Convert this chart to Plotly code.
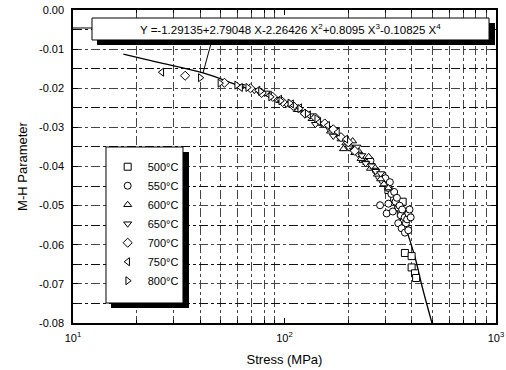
import plotly.graph_objects as go

# ---------------- data ----------------
s500 = [290, 310, 330, 345, 355, 365, 372, 362, 371, 399, 399, 414, 419]
y500 = [-0.0425, -0.0460, -0.0480, -0.0505, -0.0520, -0.0540, -0.0555, -0.0490, -0.0621, -0.0629, -0.0658, -0.0673, -0.0685]

s550 = [255, 270, 280, 290, 300, 310, 315, 320, 330, 335, 340, 345, 350, 355, 360, 365, 370, 375, 380, 385, 390, 395, 345, 358, 371, 385, 283, 304, 325, 310]
y550 = [-0.0385, -0.0410, -0.0425, -0.0435, -0.0430, -0.0455, -0.0440, -0.0470, -0.0465, -0.0490, -0.0480, -0.0505, -0.0500, -0.0525, -0.0510, -0.0540, -0.0530, -0.0545, -0.0535, -0.0520, -0.0510, -0.0530, -0.0545, -0.0558, -0.0569, -0.0563, -0.0499, -0.0520, -0.0515, -0.0495]

s600 = [95, 105, 115, 125, 135, 145, 155, 165, 175, 185, 195, 205, 215, 225, 235, 245, 255, 265, 275, 285, 295, 310, 190, 210, 230, 250]
y600 = [-0.0232, -0.0238, -0.0255, -0.0262, -0.0278, -0.0290, -0.0295, -0.0310, -0.0318, -0.0330, -0.0340, -0.0348, -0.0365, -0.0362, -0.0385, -0.0390, -0.0405, -0.0400, -0.0420, -0.0432, -0.0445, -0.0455, -0.0355, -0.0335, -0.0380, -0.0375]

s650 = [62, 72, 82, 92, 102, 112, 122, 132, 142, 152, 162, 172, 182, 192, 202, 212, 222, 232, 242, 258, 270, 285, 170, 140, 220]
y650 = [-0.0195, -0.0205, -0.0212, -0.0228, -0.0240, -0.0248, -0.0262, -0.0270, -0.0282, -0.0292, -0.0302, -0.0305, -0.0325, -0.0332, -0.0352, -0.0358, -0.0368, -0.0372, -0.0392, -0.0398, -0.0412, -0.0418, -0.0322, -0.0292, -0.0350]

s700 = [33.9, 52, 69, 78, 88, 98, 110, 125, 140, 155, 170, 185, 200, 215]
y700 = [-0.0168, -0.0186, -0.0200, -0.0212, -0.0222, -0.0235, -0.0245, -0.0265, -0.0275, -0.0290, -0.0305, -0.0325, -0.0338, -0.0360]

s750 = [26.3, 62, 75, 85, 95, 108, 118, 130, 145, 160, 178, 195]
y750 = [-0.0159, -0.0198, -0.0205, -0.0218, -0.0228, -0.0240, -0.0250, -0.0268, -0.0285, -0.0295, -0.0312, -0.0330]

s800 = [40, 49.5, 59.4, 67, 77, 86, 96, 106, 118, 128, 142]
y800 = [-0.0173, -0.0187, -0.0192, -0.0198, -0.0208, -0.0222, -0.0232, -0.0238, -0.0252, -0.0265, -0.0278]

fit_s = [17.3, 25, 41.2, 60, 76.6, 100, 120, 147, 175, 199, 225, 253, 275, 298, 325, 350, 378, 414, 447, 498]
fit_y = [-0.0113, -0.0133, -0.0161, -0.0192, -0.0212, -0.0235, -0.0258, -0.0284, -0.0315, -0.0345, -0.0371, -0.0396, -0.0417, -0.0440, -0.0470, -0.0509, -0.0563, -0.0632, -0.0706, -0.0800]

series_names = ["500°C", "550°C", "600°C", "650°C", "700°C", "750°C", "800°C"]
series_s = [s500, s550, s600, s650, s700, s750, s800]
series_y = [y500, y550, y600, y650, y700, y750, y800]
symbols = ["square", "circle", "triangle-up", "triangle-down", "diamond", "triangle-left", "triangle-right"]

x_tickvals = [10, 100, 1000]
x_ticktext = ["10<sup>1</sup>", "10<sup>2</sup>", "10<sup>3</sup>"]
x_minor = [20, 30, 40, 50, 60, 70, 80, 90, 200, 300, 400, 500, 600, 700, 800, 900]
y_tickvals = [0.0, -0.01, -0.02, -0.03, -0.04, -0.05, -0.06, -0.07, -0.08]
y_ticktext = ["0.00", "-0.01", "-0.02", "-0.03", "-0.04", "-0.05", "-0.06", "-0.07", "-0.08"]
y_minor = [-0.005, -0.015, -0.025, -0.035, -0.045, -0.055, -0.065, -0.075]

equation = "Y =-1.29135+2.79048 X-2.26426 X<sup>2</sup>+0.8095 X<sup>3</sup>-0.10825 X<sup>4</sup>"

FONT = "Liberation Sans, Arial, sans-serif"

fig = go.Figure()

fig.add_trace(go.Scatter(x=fit_s, y=fit_y, mode="lines", line=dict(color="black", width=1.3, shape="spline"),
                         showlegend=False, hoverinfo="skip"))

for name, sx, sy, sym in zip(series_names, series_s, series_y, symbols):
    fig.add_trace(go.Scatter(x=sx, y=sy, mode="markers", name=name,
                             marker=dict(symbol=sym, size=7, color="white",
                                         line=dict(color="black", width=1))))

shapes = [
    # equation box shadow + box
    dict(type="rect", xref="paper", yref="paper", x0=0.0567, x1=0.9976, y0=0.8882, y1=0.9585,
         fillcolor="black", line=dict(width=0), layer="above"),
    dict(type="rect", xref="paper", yref="paper", x0=0.0449, x1=0.9835, y0=0.9042, y1=0.9744,
         fillcolor="white", line=dict(color="black", width=1), layer="above"),
    # pointer lines
    dict(type="line", xref="paper", yref="paper", x0=0.3286, y0=0.9042, x1=0.3073, y1=0.7987,
         line=dict(color="black", width=1), layer="above"),
    dict(type="line", xref="paper", yref="paper", x0=0.0, y0=0.9425, x1=0.0449, y1=0.9425,
         line=dict(color="black", width=1), layer="above"),
    # legend shadow + frame
    dict(type="rect", xref="paper", yref="paper", x0=0.0898, x1=0.2742, y0=0.0479, y1=0.5463,
         fillcolor="black", line=dict(width=0), layer="above"),
    dict(type="rect", xref="paper", yref="paper", x0=0.0780, x1=0.2600, y0=0.0639, y1=0.5623,
         fillcolor="white", line=dict(color="black", width=1), layer="above"),
]

fig.update_layout(
    width=506, height=370,
    margin=dict(l=73, r=10, t=10, b=47),
    paper_bgcolor="white", plot_bgcolor="white",
    font=dict(family=FONT, size=11, color="black"),
    shapes=shapes,
    annotations=[dict(text=equation, xref="paper", yref="paper", x=0.514, y=0.939,
                      xanchor="center", yanchor="middle",
                      showarrow=False, font=dict(family=FONT, size=11.5, color="black"))],
    legend=dict(x=0.082, y=0.5456, xanchor="left", yanchor="top", bgcolor="rgba(0,0,0,0)",
                borderwidth=0, font=dict(family=FONT, size=11), tracegroupgap=0),
    xaxis=dict(type="log", range=[1, 3], tickvals=x_tickvals, ticktext=x_ticktext,
               showgrid=False, zeroline=False, ticks="inside", ticklen=5, tickcolor="black",
               showline=True, linecolor="black", linewidth=1.5, mirror="ticks", automargin=False,
               minor=dict(tickmode="array", tickvals=x_minor, ticks="inside", ticklen=3,
                          tickcolor="black", showgrid=True, gridcolor="#444", gridwidth=1,
                          griddash="dashdot"),
               title=dict(text="Stress (MPa)", font=dict(family=FONT, size=13), standoff=12),
               tickfont=dict(family=FONT, size=11), ticklabelstandoff=4),
    yaxis=dict(range=[-0.08, 0], tickvals=y_tickvals, ticktext=y_ticktext,
               showgrid=True, gridcolor="#444", gridwidth=1, griddash="dashdot", zeroline=False,
               ticks="inside", ticklen=5, tickcolor="black", automargin=False,
               showline=True, linecolor="black", linewidth=1.5, mirror="ticks",
               minor=dict(tickmode="array", tickvals=y_minor, ticks="inside", ticklen=3,
                          tickcolor="black", showgrid=True, gridcolor="#111", gridwidth=1),
               title=dict(text="M-H Parameter", font=dict(family=FONT, size=13), standoff=8),
               tickfont=dict(family=FONT, size=11), ticklabelstandoff=5),
)

fig.write_html("out.html")
